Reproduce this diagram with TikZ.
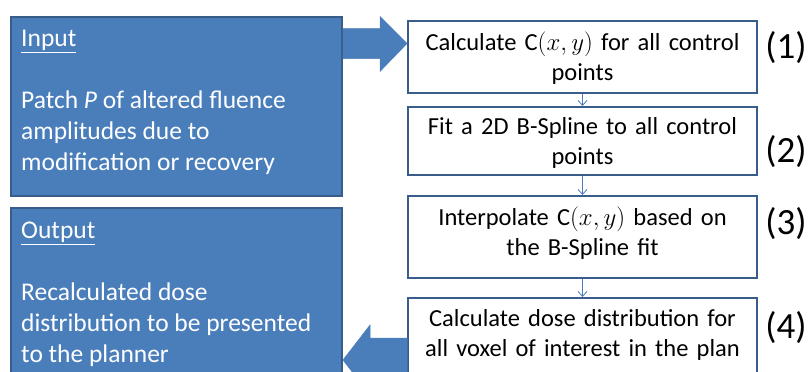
\documentclass[tikz,border=0pt]{standalone}
\usepackage{fontspec}
\setmainfont{Carlito}
\usetikzlibrary{arrows.meta,calc}
\definecolor{boxfill}{HTML}{4A7EBB}
\definecolor{boxline}{HTML}{385D8A}
\tikzset{
  bluebox/.style={draw=boxline,line width=2pt,fill=boxfill,inner sep=0pt,anchor=north west},
  whitebox/.style={draw=boxline,line width=2pt,fill=white,inner sep=0pt,anchor=north west},
  bluetext/.style={text=white,anchor=north west,align=left,inner sep=0pt,font=\fontsize{25.5}{31}\selectfont},
  steptext/.style={text=black,align=center,inner sep=0pt,text width=335pt,font=\fontsize{24.5}{30}\selectfont},
  numtext/.style={text=black,inner sep=0pt,font=\fontsize{37}{40}\selectfont},
  thinarrow/.style={draw=boxfill,line width=0.8pt,-{Straight Barb[length=5pt,width=9pt]}},
  blockarrow/.style={fill=boxfill,draw=boxfill,line width=0.5pt}
}
\newcommand{\cxy}{C$(x,y)$}
\begin{document}
\begin{tikzpicture}[x=1pt,y=-1pt]
\useasboundingbox (0,0) rectangle (811,372);
% left blue boxes
\node[bluebox,minimum width=331pt,minimum height=179pt] (inp) at (10,16) {};
\node[bluebox,minimum width=331pt,minimum height=185pt] (outp) at (10,207) {};
\node[bluetext] (inptxt) at (21,30) {\underline{Input}\\[31pt]Patch \textit{P} of altered fluence\\amplitudes due to\\modification or recovery};
\node[bluetext] (outtxt) at (21,222) {\underline{Output}\\[31pt]Recalculated dose\\distribution to be presented\\to the planner};
% right step boxes
\node[whitebox,minimum width=349pt,minimum height=72pt] (s1) at (407,20) {};
\node[whitebox,minimum width=349pt,minimum height=68pt] (s2) at (407,106) {};
\node[whitebox,minimum width=349pt,minimum height=82pt] (s3) at (407,195) {};
\node[whitebox,minimum width=349pt,minimum height=90pt] (s4) at (407,297) {};
\node[steptext] (t1) at ($(s1.center)+(0,1)$) {Calculate \cxy{} for all control\\points};
\node[steptext] (t2) at ($(s2.center)+(0,2)$) {Fit a 2D B-Spline to all control\\points};
\node[steptext] (t3) at ($(s3.center)+(0,-4)$) {Interpolate \cxy{} based on\\the B-Spline fit};
\node[steptext,anchor=north] (t4) at ($(s4.north)+(0,12)$) {Calculate dose distribution for\\all voxel of interest in the plan};
% numbers
\node[numtext] (n1) at (786,48) {(1)};
\node[numtext] (n2) at (786,152) {(2)};
\node[numtext] (n3) at (786,224) {(3)};
\node[numtext] (n4) at (786,328) {(4)};
% thin arrows
\draw[thinarrow] (s1.south) -- (s2.north);
\draw[thinarrow] (s2.south) -- (s3.north);
\draw[thinarrow] (s3.south) -- (s4.north);
% block arrow input -> step 1
\coordinate (ra) at (inp.east |- 0,43.5);
\coordinate (rt) at (s1.west |- 0,43.5);
\fill[blockarrow] ($(ra)+(0,-15)$) -- ($(rt)+(-27,-15)$) -- ($(rt)+(-27,-27)$) -- (rt)
  -- ($(rt)+(-27,28)$) -- ($(rt)+(-27,15)$) -- ($(ra)+(0,15)$) -- cycle;
% block arrow step 4 -> output
\coordinate (la) at (s4.west |- 0,360);
\coordinate (lt) at (outp.east |- 0,360);
\fill[blockarrow] ($(la)+(0,-22)$) -- ($(lt)+(27,-22)$) -- ($(lt)+(27,-35)$) -- (lt)
  -- ($(lt)+(27,35)$) -- ($(lt)+(27,22)$) -- ($(la)+(0,22)$) -- cycle;
\end{tikzpicture}
\end{document}
